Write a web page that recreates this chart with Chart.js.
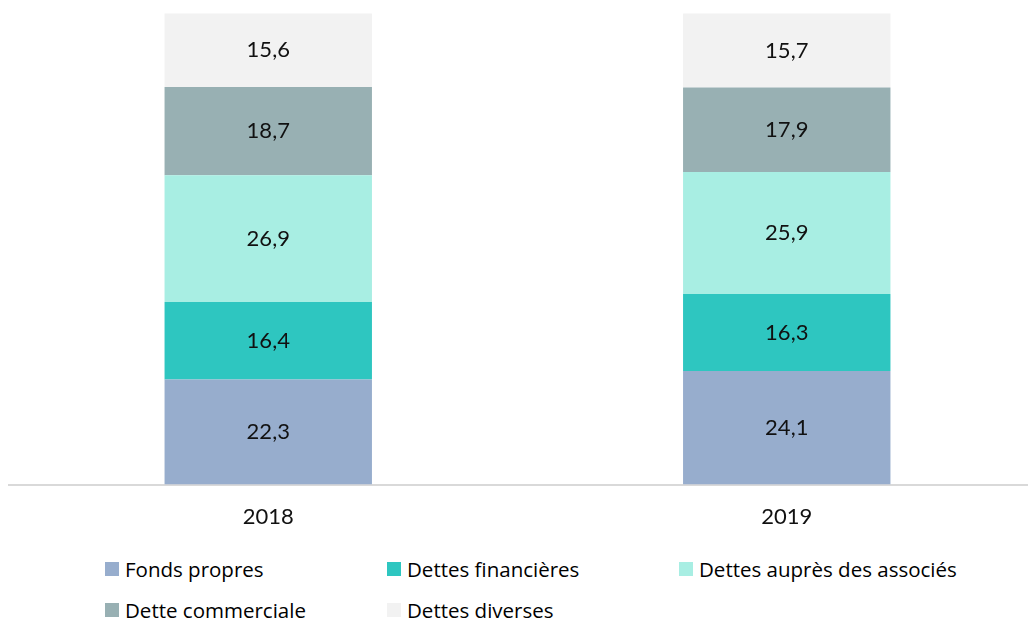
<!DOCTYPE html>
<html lang="fr">
<head>
<meta charset="utf-8">
<title>Structure du passif</title>
<script src="https://cdn.jsdelivr.net/npm/chart.js@4.4.1/dist/chart.umd.min.js"></script>
<style>
    html, body {
        margin: 0;
        padding: 0;
        background: #ffffff;
        overflow: hidden;
    }
    #wrap {
        position: relative;
        width: 1028px;
        height: 622px;
        overflow: hidden;
    }
    #canvasBox {
        position: absolute;
        left: 0;
        top: 0;
        width: 1046px;
        height: 541px;
    }
    #legend {
        position: absolute;
        left: 0;
        top: 551px;
        width: 1028px;
        font-family: "Open Sans", Lato, sans-serif;
        font-size: 20.5px;
        color: #000000;
    }
    .legend-item {
        position: absolute;
        display: flex;
        align-items: center;
        white-space: nowrap;
        height: 36px;
    }
    .legend-box {
        width: 14px;
        height: 14px;
        margin-right: 6px;
    }
</style>
</head>
<body>
<div id="wrap">
    <div id="canvasBox"><canvas id="passifChart"></canvas></div>
    <div id="legend"></div>
</div>
<script>
const years = ['2018', '2019'];

const fondsPropres = [22.3, 24.1];
const dettesFinancieres = [16.4, 16.3];
const dettesAssocies = [26.9, 25.9];
const detteCommerciale = [18.7, 17.9];
const dettesDiverses = [15.6, 15.7];

const seriesNames = [
    'Fonds propres',
    'Dettes financières',
    'Dettes auprès des associés',
    'Dette commerciale',
    'Dettes diverses'
];

const seriesColors = [
    '#97adcd',
    '#2ec6c0',
    '#a8eee3',
    '#98b0b3',
    '#f2f2f2'
];

const seriesValues = [fondsPropres, dettesFinancieres, dettesAssocies, detteCommerciale, dettesDiverses];

// legend slots: [left, top] per series
const legendSlots = [[105, 0], [387, 0], [679, 0], [105, 41], [387, 41]];

const labelFont = 'Lato, "Open Sans", sans-serif';

// Writes each segment value in the middle of its bar
const barValueLabels = {
    id: 'barValueLabels',
    afterDatasetsDraw(chart) {
        const ctx = chart.ctx;
        ctx.save();
        ctx.font = '22px ' + labelFont;
        ctx.fillStyle = '#111111';
        ctx.textAlign = 'center';
        ctx.textBaseline = 'middle';
        chart.data.datasets.forEach((dataset, i) => {
            const meta = chart.getDatasetMeta(i);
            meta.data.forEach((bar, j) => {
                const value = dataset.data[j];
                const yMid = (bar.y + bar.base) / 2;
                ctx.fillText(value.toFixed(1).replace('.', ','), bar.x, yMid);
            });
        });
        ctx.restore();
    }
};

const passifCtx = document.getElementById('passifChart');
new Chart(passifCtx, {
    type: 'bar',
    data: {
        labels: years,
        datasets: seriesNames.map((name, i) => ({
            label: name,
            data: seriesValues[i],
            backgroundColor: seriesColors[i],
            borderWidth: 0,
            barPercentage: 0.4,
            categoryPercentage: 1.0
        }))
    },
    options: {
        responsive: true,
        maintainAspectRatio: false,
        animation: false,
        layout: {
            padding: { left: 9, right: 0, top: 13, bottom: 0 }
        },
        plugins: {
            legend: { display: false },
            tooltip: { enabled: false }
        },
        scales: {
            x: {
                stacked: true,
                grid: {
                    display: false
                },
                border: {
                    display: true,
                    color: '#d9d9d9',
                    width: 2
                },
                ticks: {
                    color: '#111111',
                    padding: 11,
                    font: {
                        family: labelFont,
                        size: 22
                    }
                }
            },
            y: {
                stacked: true,
                display: false,
                min: 0,
                max: 100
            }
        }
    },
    plugins: [barValueLabels]
});

// Legend in two rows below the chart
const legendEl = document.getElementById('legend');
seriesNames.forEach((name, i) => {
    const item = document.createElement('div');
    item.className = 'legend-item';
    item.style.left = legendSlots[i][0] + 'px';
    item.style.top = legendSlots[i][1] + 'px';
    const box = document.createElement('span');
    box.className = 'legend-box';
    box.style.background = seriesColors[i];
    const text = document.createElement('span');
    text.textContent = name;
    item.appendChild(box);
    item.appendChild(text);
    legendEl.appendChild(item);
});
</script>
</body>
</html>
